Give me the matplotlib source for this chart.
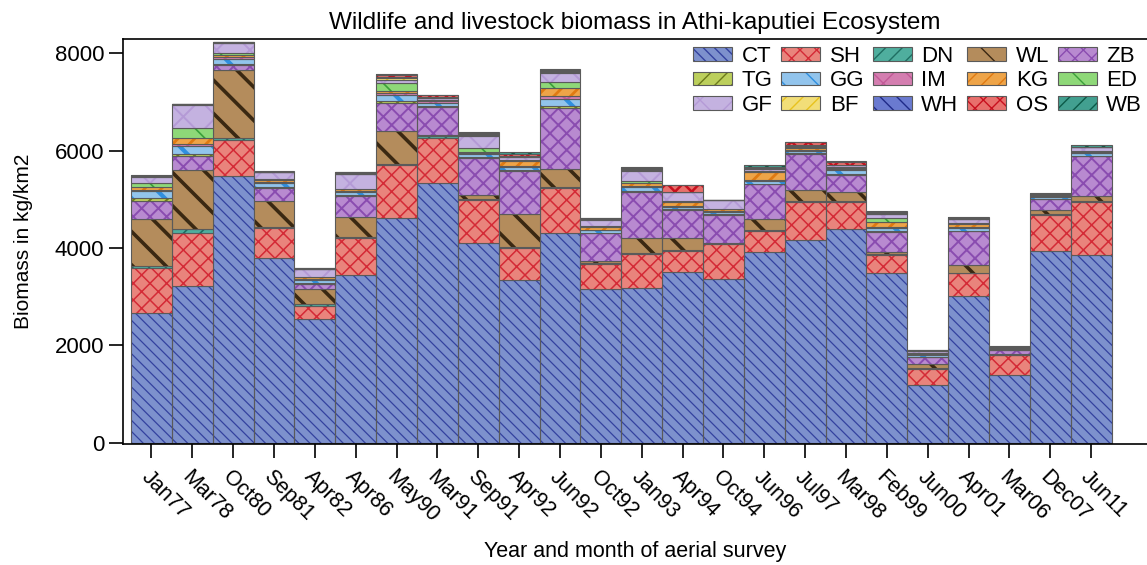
import matplotlib
matplotlib.use("Agg")
import matplotlib.pyplot as plt
from matplotlib.patches import Patch
import numpy as np

plt.rcParams['font.family'] = ['Liberation Sans', 'DejaVu Sans']

surveys = ["Jan77", "Mar78", "Oct80", "Sep81", "Apr82", "Apr86", "May90", "Mar91",
           "Sep91", "Apr92", "Jun92", "Oct92", "Jan93", "Apr94", "Oct94", "Jun96",
           "Jul97", "Mar98", "Feb99", "Jun00", "Apr01", "Mar06", "Dec07", "Jun11"]

# biomass (kg/km2) per species, stacked from bottom to top
CT = [2670, 3215, 5485, 3785, 2540, 3445, 4610, 5335, 4110, 3340, 4315, 3150,
      3170, 3510, 3355, 3925, 4165, 4385, 3490, 1180, 3010, 1385, 3945, 3855]
SH = [925, 1100, 740, 620, 265, 755, 1100, 915, 880, 655, 915, 520,
      705, 435, 720, 425, 790, 570, 365, 340, 470, 410, 735, 1100]
DN = [35, 75, 35, 20, 40, 35, 20, 60, 20, 20, 20, 30,
      25, 15, 20, 15, 20, 15, 15, 10, 15, 15, 15, 20]
WL = [975, 1215, 1390, 545, 305, 410, 670, 20, 80, 685, 370, 30,
      300, 255, 0, 225, 225, 190, 55, 90, 160, 15, 90, 85]
ZB = [370, 275, 100, 260, 120, 430, 585, 565, 760, 885, 1260, 570,
      950, 570, 585, 720, 725, 345, 410, 140, 685, 70, 220, 825]
TG = [55, 55, 25, 30, 15, 20, 35, 20, 20, 20, 30, 15,
      20, 15, 15, 15, 20, 20, 15, 10, 15, 10, 10, 15]
GG = [140, 165, 110, 70, 65, 50, 115, 70, 60, 65, 150, 50,
      80, 40, 45, 60, 55, 80, 60, 40, 65, 15, 35, 45]
IM = [30, 40, 35, 20, 15, 20, 45, 30, 20, 20, 70, 15,
      20, 15, 15, 15, 15, 15, 15, 10, 15, 10, 10, 15]
KG = [55, 115, 55, 50, 30, 40, 45, 20, 30, 90, 150, 50,
      75, 100, 40, 170, 40, 20, 100, 15, 55, 10, 15, 20]
ED = [90, 205, 35, 20, 15, 15, 160, 15, 70, 20, 135, 20,
      40, 15, 15, 15, 15, 15, 85, 10, 15, 5, 10, 15]
GF = [120, 485, 205, 135, 150, 300, 70, 30, 260, 60, 180, 130,
      200, 180, 175, 40, 35, 45, 85, 30, 90, 25, 15, 80]
BF = [10, 5, 5, 5, 10, 10, 30, 10, 10, 10, 20, 10,
      15, 5, 0, 10, 10, 10, 10, 5, 5, 0, 0, 0]
WH = [5, 5, 5, 5, 5, 10, 20, 20, 20, 30, 20, 10,
      20, 5, 5, 10, 10, 5, 10, 5, 5, 0, 5, 5]
OS = [5, 5, 5, 5, 10, 15, 45, 30, 30, 40, 30, 10,
      30, 135, 0, 20, 55, 50, 15, 15, 10, 0, 5, 5]
WB = [5, 0, 5, 5, 10, 10, 17, 0, 16, 26, 5, 2,
      14, 4, 0, 30, 0, 30, 20, 10, 18, 10, 18, 40]

species = ["CT", "SH", "DN", "WL", "ZB", "TG", "GG", "IM", "KG", "ED",
           "GF", "BF", "WH", "OS", "WB"]
series = [CT, SH, DN, WL, ZB, TG, GG, IM, KG, ED, GF, BF, WH, OS, WB]

# face colour, hatch colour, hatch pattern, hatch width
styles = {
    "CT": ('#7d91cd', '#34429f', '\\\\\\', 0.9),
    "SH": ('#e9847c', '#d42a36', 'xx', 1.1),
    "DN": ('#4fae9e', '#1f6e62', '//', 1.2),
    "WL": ('#b48c5c', '#3a2812', '\\', 2.6),
    "ZB": ('#b88ad0', '#8a4cb0', 'xx', 1.4),
    "TG": ('#bccf5c', '#6c7a1a', '//', 1.5),
    "GG": ('#92c4ec', '#2f8fe0', '\\', 3.0),
    "IM": ('#d47eb0', '#c25a98', 'x', 1.6),
    "KG": ('#eea448', '#e07a12', '//', 2.0),
    "ED": ('#8ed878', '#3aa03a', '\\', 1.2),
    "GF": ('#c4b2e0', '#b49ad6', 'x', 1.4),
    "BF": ('#f2de78', '#e8c21e', '//', 1.2),
    "WH": ('#6a7ad0', '#1f2a88', '\\\\', 1.8),
    "OS": ('#e8706c', '#c8101e', 'xx', 1.8),
    "WB": ('#42a090', '#0c5a48', '//', 1.8),
}
edge = '#5a5a5a'

fig = plt.figure(figsize=(11.47, 5.65), dpi=100)
ax = fig.add_axes([123 / 1147, 1 - 444 / 565, 1 - 123 / 1147, (444 - 39) / 565])

x = np.arange(len(surveys))
bottom = np.zeros(len(surveys))
handles = {}
for name, vals in zip(species, series):
    vals = np.array(vals, dtype=float)
    face, hcol, hatch, hlw = styles[name]
    bars = ax.bar(x, vals, width=1.0, bottom=bottom, color=face, hatch=hatch,
                  edgecolor=hcol, linewidth=0)
    for b in bars:
        if hasattr(b, 'set_hatch_linewidth'):
            b.set_hatch_linewidth(hlw)
    ax.bar(x, vals, width=1.0, bottom=bottom, fill=False, edgecolor=edge,
           linewidth=0.8)
    bottom += vals
    hp = Patch(facecolor=face, hatch=hatch, edgecolor=hcol, linewidth=0)
    if hasattr(hp, 'set_hatch_linewidth'):
        hp.set_hatch_linewidth(hlw)
    handles[name] = (hp, Patch(fill=False, edgecolor=edge, linewidth=0.8))

# legend reads row-wise (5 columns, 3 rows)
order = []
for c in range(5):
    for r in range(3):
        order.append(species[r * 5 + c])
fig.legend([handles[n] for n in order], order, ncol=5, frameon=False,
           loc='upper right', bbox_to_anchor=(1142 / 1147, 1 - 46 / 565),
           borderpad=0, borderaxespad=0, fontsize=16, labelspacing=0.15,
           handlelength=1.76, handleheight=0.59, handletextpad=0.42,
           columnspacing=0.39)

ax.set_xlim(-0.5 - 8 / 40.8, 23.5 + 35.3 / 40.8)
ax.set_ylim(-27, 8294)
ax.set_yticks([0, 2000, 4000, 6000, 8000])
ax.set_xticks(x)
ax.set_xticklabels(surveys, rotation=-45, ha='left', va='top',
                   rotation_mode='anchor')
ax.tick_params(axis='both', direction='out', length=10, width=1.2,
               labelsize=16, color='black')
ax.tick_params(axis='x', pad=6, labelsize=15.5)
for s in ['left', 'bottom', 'top']:
    ax.spines[s].set_linewidth(1.2)
ax.spines['right'].set_visible(False)

ax.set_title("Wildlife and livestock biomass in Athi-kaputiei Ecosystem",
             fontsize=17.5, pad=7)
ax.set_ylabel("Biomass in kg/km2", fontsize=15, labelpad=16)
ax.set_xlabel("Year and month of aerial survey", fontsize=15.5, labelpad=10)

fig.savefig("out.png", dpi=100)
